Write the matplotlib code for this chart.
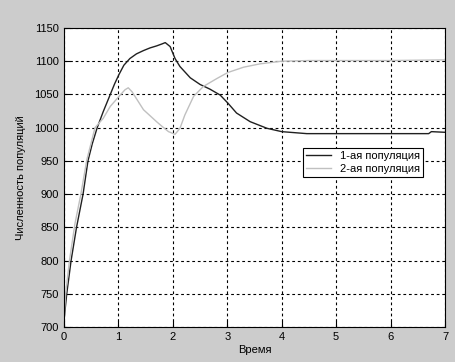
import matplotlib
matplotlib.use("Agg")
import matplotlib.pyplot as plt

plt.rcParams['font.family'] = ['Liberation Sans', 'DejaVu Sans']

t1 = [0, 0.05, 0.13, 0.23, 0.35, 0.44, 0.52, 0.61, 0.72, 0.85, 0.93, 1.01, 1.1, 1.21, 1.33, 1.46,
      1.58, 1.70, 1.80, 1.86, 1.95, 2.04, 2.13, 2.32, 2.5, 2.68, 2.87, 3.01, 3.17, 3.42, 3.73, 4.0,
      4.46, 5.0, 5.5, 6.0, 6.5, 6.7, 6.75, 7.0]
p1 = [710, 750, 800, 850, 900, 950, 976, 1000, 1024, 1050, 1066, 1080, 1094, 1104, 1111, 1116,
      1120, 1123, 1126, 1128, 1122, 1104, 1092, 1075, 1065, 1058, 1049, 1037, 1022, 1009, 999, 994,
      991, 991, 991, 991, 991, 991, 994, 993]

t2 = [0, 0.03, 0.1, 0.2, 0.31, 0.42, 0.57, 0.72, 0.85, 1.01, 1.12, 1.18, 1.25, 1.46, 1.70, 1.80,
      1.92, 2.04, 2.13, 2.22, 2.38, 2.56, 2.81, 3.01, 3.30, 3.6, 4.0, 4.5, 5.0, 6.0, 7.0]
p2 = [712, 750, 800, 855, 900, 952, 1000, 1014, 1032, 1047, 1057, 1060, 1054, 1027, 1009, 1002,
      994, 990, 999, 1019, 1047, 1062, 1074, 1083, 1091, 1096, 1100, 1101, 1101, 1101, 1102]

labels = ['1-ая популяция', '2-ая популяция']

fig = plt.figure(figsize=(4.55, 3.62), dpi=100, facecolor='#cccccc')
ax = fig.add_axes([0.1407, 0.0967, 0.978 - 0.1407, 0.9227 - 0.0967])
ax.set_facecolor('white')
ax.plot(t1, p1, color='#202020', lw=1.0, label=labels[0])
ax.plot(t2, p2, color='#c0c0c0', lw=1.0, label=labels[1])
ax.set_xlim(0, 7)
ax.set_ylim(700, 1150)
ax.set_xticks(range(0, 8))
ax.set_yticks(range(700, 1151, 50))
ax.grid(True, color='black', linestyle=(0, (2.5, 2.5)), linewidth=0.8)
ax.tick_params(direction='in', labelsize=8, length=4, top=False, right=False)
for s in ax.spines.values():
    s.set_linewidth(0.8)
ax.set_xlabel('Время', fontsize=8, labelpad=2)
ax.set_ylabel('Численность популяций', fontsize=8, labelpad=6)
leg = ax.legend(loc='upper left', bbox_to_anchor=((303 - 64) / 381, 1 - (148 - 28) / 299),
                fontsize=8, fancybox=False, framealpha=1, edgecolor='black',
                borderpad=0.3, handlelength=2.2, labelspacing=0.2, borderaxespad=0)
leg.get_frame().set_linewidth(0.8)
fig.savefig('out.png', dpi=100, facecolor=fig.get_facecolor())
